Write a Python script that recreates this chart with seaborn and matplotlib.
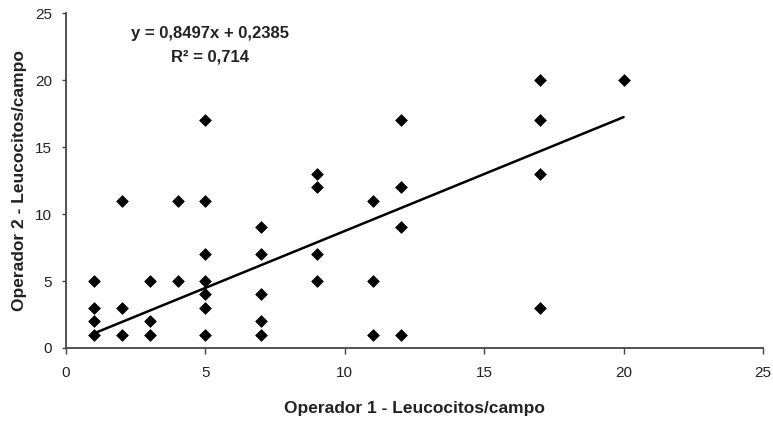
import matplotlib
matplotlib.use("Agg")
import matplotlib.pyplot as plt
import seaborn as sns
import numpy as np
import pandas as pd

# Data
op1 = [1, 1, 1, 1,
       2, 2, 2,
       3, 3, 3,
       4, 4,
       5, 5, 5, 5, 5, 5, 5,
       7, 7, 7, 7, 7,
       9, 9, 9, 9,
       11, 11, 11,
       12, 12, 12, 12,
       17, 17, 17, 17,
       20]
op2 = [1, 2, 3, 5,
       1, 3, 11,
       1, 2, 5,
       5, 11,
       1, 3, 4, 5, 7, 11, 17,
       1, 2, 4, 7, 9,
       5, 7, 12, 13,
       1, 5, 11,
       1, 9, 12, 17,
       3, 13, 17, 20,
       20]
slope = 0.8497
intercept = 0.2385
r2_text = "0,714"
x_ticks = [0, 5, 10, 15, 20, 25]
y_ticks = [0, 5, 10, 15, 20, 25]

sns.set_theme(style="ticks")
plt.rcParams['font.family'] = ['Liberation Sans', 'DejaVu Sans']

fig = plt.figure(figsize=(7.73, 4.21), dpi=100)
ax = fig.add_axes([0.0854, 0.1734, 0.9016, 0.7956])

df = pd.DataFrame({"x": op1, "y": op2})
sns.scatterplot(data=df, x="x", y="y", ax=ax, marker="D", s=36,
                color="black", edgecolor="black", linewidth=0.5, zorder=3)

fx = np.array([min(op1), max(op1)], dtype=float)
line_df = pd.DataFrame({"x": fx, "y": slope * fx + intercept})
sns.lineplot(data=line_df, x="x", y="y", ax=ax, color="black", linewidth=1.8, zorder=2)

ax.set_xlim(0, 25)
ax.set_ylim(0, 25)
ax.set_xticks(x_ticks)
ax.set_yticks(y_ticks)
ax.tick_params(axis="both", direction="out", length=4, width=1.0,
               color="#444444", labelsize=11, labelcolor="#222222")
ax.tick_params(axis="x", pad=9)
ax.tick_params(axis="y", pad=7, length=3)
for s in ["top", "right"]:
    ax.spines[s].set_visible(False)
for s in ["left", "bottom"]:
    ax.spines[s].set_color("#444444")
    ax.spines[s].set_linewidth(1.3)

ax.set_xlabel("Operador 1 - Leucocitos/campo", fontsize=12.5, fontweight="bold",
              color="#222222", labelpad=15)
ax.set_ylabel("Operador 2 - Leucocitos/campo", fontsize=12.5, fontweight="bold",
              color="#222222", labelpad=6)

eq = "y = " + str(slope).replace(".", ",") + "x + " + str(intercept).replace(".", ",")
ax.text(0.207, 0.94, eq, transform=ax.transAxes, ha="center", va="center",
        fontsize=12, fontweight="bold", color="#222222")
ax.text(0.207, 0.868, "R² = " + r2_text, transform=ax.transAxes, ha="center",
        va="center", fontsize=12, fontweight="bold", color="#222222")

fig.savefig("out.png", dpi=100)
